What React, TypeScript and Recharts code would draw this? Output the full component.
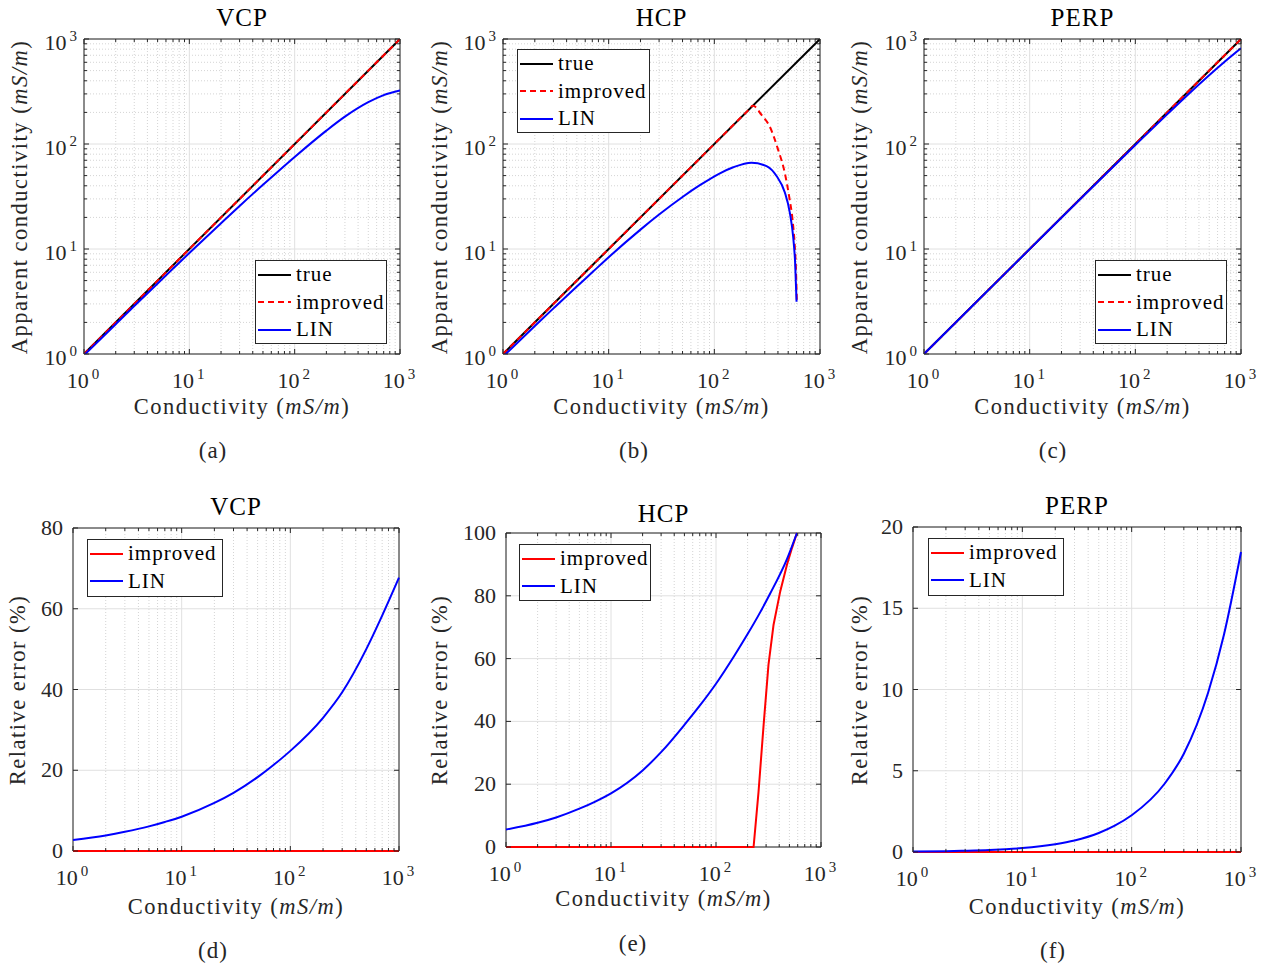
import { LineChart, Line, XAxis, YAxis, CartesianGrid, Legend, ReferenceArea } from 'recharts'

const SERIF = '"Liberation Serif", "Times New Roman", serif'
const INK = '#262626'

// log axis ticks (conductivity, mS/m)
const LOG_DECADES = [1, 10, 100, 1000]
const LOG_EXPONENTS = ['0', '1', '2', '3']
const LOG_MINOR = [2, 3, 4, 5, 6, 7, 8, 9, 20, 30, 40, 50, 60, 70, 80, 90, 200, 300, 400, 500, 600, 700, 800, 900]
const LOG_ALL = [1, 2, 3, 4, 5, 6, 7, 8, 9, 10, 20, 30, 40, 50, 60, 70, 80, 90, 100, 200, 300, 400, 500, 600, 700, 800, 900, 1000]

// relative error ticks (%)
const ERR_TICKS_VCP = [0, 20, 40, 60, 80]
const ERR_TICKS_HCP = [0, 20, 40, 60, 80, 100]
const ERR_TICKS_PERP = [0, 5, 10, 15, 20]

// true conductivity line
const TRUE_X = [1, 1000]
const TRUE_Y = [1, 1000]

// VCP
const VCP_X = [1, 2, 3, 5, 7, 10, 20, 30, 50, 70, 100, 200, 300, 500, 700, 1000]
const VCP_LIN_APPARENT = [0.973, 1.923, 2.86, 4.7, 6.5, 9.15, 17.6, 25.7, 40.9, 55.1, 75.2, 134, 182, 250, 292, 323]
const VCP_LIN_ERR = [2.7, 3.85, 4.75, 6.1, 7.2, 8.5, 11.9, 14.4, 18.3, 21.3, 24.8, 33.0, 39.3, 50, 58.3, 67.7]
const ZERO_X = [1, 1000]
const ZERO_Y = [0, 0]

// HCP
const HCP_LIN_X = [1, 2, 3, 5, 7, 10, 20, 30, 50, 73, 113, 151, 225, 312, 388, 465, 519, 557, 582, 600]
const HCP_LIN_APPARENT = [0.945, 1.85, 2.72, 4.4, 6.0, 8.35, 15.3, 21.3, 31.3, 40.5, 52.6, 60.0, 66.4, 61.5, 49.5, 34.5, 22, 13.1, 7.3, 3.15]
const HCP_IMP_X = [1, 100, 200, 233, 280, 335, 402, 465, 511, 550, 578, 591, 604]
const HCP_IMP_APPARENT = [1, 100, 200, 231, 189, 146, 88, 52.6, 31.5, 18.9, 10.5, 6.8, 3.15]
const HCP_LIN_ERR_X = [1, 2, 3, 5, 7, 10, 20, 30, 50, 70, 100, 150, 200, 264, 329, 474, 590]
const HCP_LIN_ERR = [5.55, 7.7, 9.4, 12.2, 14.4, 17.1, 24.4, 30.2, 38.9, 45.0, 52, 61, 67.8, 74.8, 80.8, 91.7, 100]
const HCP_IMP_ERR_X = [1, 228, 254, 284, 316, 353, 409, 474, 529, 590]
const HCP_IMP_ERR = [0, 0, 17.5, 38.8, 58, 70.7, 81.4, 89.9, 95.2, 100]

// PERP
const PERP_LIN_X = [1, 10, 30, 100, 200, 300, 500, 700, 1000]
const PERP_LIN_APPARENT = [1, 9.98, 29.8, 97.7, 191.6, 281.9, 451, 606, 815]
const PERP_X = [1, 2, 3, 5, 7, 10, 20, 30, 50, 70, 100, 200, 300, 500, 700, 1000]
const PERP_LIN_ERR = [0.025, 0.05, 0.075, 0.12, 0.17, 0.24, 0.48, 0.71, 1.17, 1.62, 2.26, 4.2, 6.05, 9.8, 13.4, 18.46]

type Series = {
  name: string
  xs: number[]
  ys: number[]
  color: string
  dash?: string
  curve: 'monotone' | 'linear'
}

type Box = { left: number; top: number; width: number; height: number }

type PanelSpec = {
  box: Box
  title: string
  titleY: number
  yLog: boolean
  yDomain: [number, number]
  yTicks: number[]
  yLabel: string
  yLabelX: number
  xTitleY: number
  caption: string
  captionX: number
  captionY: number
  legend: Box
  series: Series[]
}

const trueS = (): Series => ({ name: 'true', xs: TRUE_X, ys: TRUE_Y, color: '#000000', curve: 'linear' })

const PANELS: PanelSpec[] = [
  {
    box: { left: 84, top: 39, width: 316, height: 315 },
    title: 'VCP', titleY: 17, yLog: true, yDomain: [1, 1000], yTicks: LOG_ALL,
    yLabel: 'Apparent conductivity', yLabelX: 20, xTitleY: 407,
    caption: '(a)', captionX: 213, captionY: 450,
    legend: { left: 255, top: 260, width: 132, height: 84 },
    series: [
      trueS(),
      { name: 'improved', xs: TRUE_X, ys: TRUE_Y, color: '#ff0000', dash: '6 4', curve: 'linear' },
      { name: 'LIN', xs: VCP_X, ys: VCP_LIN_APPARENT, color: '#0000ff', curve: 'monotone' },
    ],
  },
  {
    box: { left: 503, top: 39, width: 317, height: 315 },
    title: 'HCP', titleY: 17, yLog: true, yDomain: [1, 1000], yTicks: LOG_ALL,
    yLabel: 'Apparent conductivity', yLabelX: 440, xTitleY: 407,
    caption: '(b)', captionX: 634, captionY: 450,
    legend: { left: 517, top: 49, width: 133, height: 84 },
    series: [
      trueS(),
      { name: 'improved', xs: HCP_IMP_X, ys: HCP_IMP_APPARENT, color: '#ff0000', dash: '6 4', curve: 'monotone' },
      { name: 'LIN', xs: HCP_LIN_X, ys: HCP_LIN_APPARENT, color: '#0000ff', curve: 'monotone' },
    ],
  },
  {
    box: { left: 924, top: 39, width: 317, height: 315 },
    title: 'PERP', titleY: 17, yLog: true, yDomain: [1, 1000], yTicks: LOG_ALL,
    yLabel: 'Apparent conductivity', yLabelX: 860, xTitleY: 407,
    caption: '(c)', captionX: 1053, captionY: 450,
    legend: { left: 1095, top: 260, width: 132, height: 84 },
    series: [
      trueS(),
      { name: 'improved', xs: TRUE_X, ys: TRUE_Y, color: '#ff0000', dash: '6 4', curve: 'linear' },
      { name: 'LIN', xs: PERP_LIN_X, ys: PERP_LIN_APPARENT, color: '#0000ff', curve: 'monotone' },
    ],
  },
  {
    box: { left: 73, top: 528, width: 326, height: 323 },
    title: 'VCP', titleY: 506, yLog: false, yDomain: [0, 80], yTicks: ERR_TICKS_VCP,
    yLabel: 'Relative error', yLabelX: 18, xTitleY: 907,
    caption: '(d)', captionX: 213, captionY: 950,
    legend: { left: 87, top: 539, width: 136, height: 58 },
    series: [
      { name: 'improved', xs: ZERO_X, ys: ZERO_Y, color: '#ff0000', curve: 'linear' },
      { name: 'LIN', xs: VCP_X, ys: VCP_LIN_ERR, color: '#0000ff', curve: 'monotone' },
    ],
  },
  {
    box: { left: 506, top: 533, width: 315, height: 314 },
    title: 'HCP', titleY: 513, yLog: false, yDomain: [0, 100], yTicks: ERR_TICKS_HCP,
    yLabel: 'Relative error', yLabelX: 440, xTitleY: 899,
    caption: '(e)', captionX: 633, captionY: 943,
    legend: { left: 519, top: 544, width: 132, height: 57 },
    series: [
      { name: 'improved', xs: HCP_IMP_ERR_X, ys: HCP_IMP_ERR, color: '#ff0000', curve: 'linear' },
      { name: 'LIN', xs: HCP_LIN_ERR_X, ys: HCP_LIN_ERR, color: '#0000ff', curve: 'monotone' },
    ],
  },
  {
    box: { left: 913, top: 527, width: 328, height: 325 },
    title: 'PERP', titleY: 505, yLog: false, yDomain: [0, 20], yTicks: ERR_TICKS_PERP,
    yLabel: 'Relative error', yLabelX: 860, xTitleY: 907,
    caption: '(f)', captionX: 1053, captionY: 950,
    legend: { left: 928, top: 538, width: 136, height: 58 },
    series: [
      { name: 'improved', xs: ZERO_X, ys: ZERO_Y, color: '#ff0000', curve: 'linear' },
      { name: 'LIN', xs: PERP_X, ys: PERP_LIN_ERR, color: '#0000ff', curve: 'monotone' },
    ],
  },
]

const YW = 70
const TM = 26
const RM = 24
const XH = 44

function Txt({ x, y, size, spacing = 1, rotate, color = INK, children }: any) {
  return (
    <div
      style={{
        position: 'absolute',
        left: x,
        top: y,
        transform: `translate(-50%, -50%)${rotate ? ' rotate(-90deg)' : ''}`,
        fontFamily: SERIF,
        fontSize: size,
        letterSpacing: spacing,
        color,
        whiteSpace: 'nowrap',
        lineHeight: 1,
      }}
    >
      {children}
    </div>
  )
}

function Pow10({ x, y, anchor, exp }: any) {
  return (
    <text x={x} y={y} textAnchor={anchor} fontFamily={SERIF} fontSize={22} fill={INK}>
      10
      <tspan dx={3} dy={-9} fontSize={15}>{exp}</tspan>
    </text>
  )
}

function LogXTick({ x, y, payload, plotH }: any) {
  const di = LOG_DECADES.indexOf(payload.value)
  const len = di >= 0 ? 5 : 3
  return (
    <g>
      <line x1={x} x2={x} y1={y} y2={y - len} stroke={INK} strokeWidth={1} />
      <line x1={x} x2={x} y1={y - plotH} y2={y - plotH + len} stroke={INK} strokeWidth={1} />
      {di >= 0 && <Pow10 x={x - 1} y={y + 34} anchor="middle" exp={LOG_EXPONENTS[di]} />}
    </g>
  )
}

function LogYTick({ x, y, payload, plotW }: any) {
  const di = LOG_DECADES.indexOf(payload.value)
  const len = di >= 0 ? 5 : 3
  return (
    <g>
      <line x1={x} x2={x + len} y1={y} y2={y} stroke={INK} strokeWidth={1} />
      <line x1={x + plotW - len} x2={x + plotW} y1={y} y2={y} stroke={INK} strokeWidth={1} />
      {di >= 0 && <Pow10 x={x - 7} y={y + 11} anchor="end" exp={LOG_EXPONENTS[di]} />}
    </g>
  )
}

function LinYTick({ x, y, payload, plotW }: any) {
  return (
    <g>
      <line x1={x} x2={x + 5} y1={y} y2={y} stroke={INK} strokeWidth={1} />
      <line x1={x + plotW - 5} x2={x + plotW} y1={y} y2={y} stroke={INK} strokeWidth={1} />
      <text x={x - 10} y={y + 7} textAnchor="end" fontFamily={SERIF} fontSize={22} fill={INK}>
        {payload.value}
      </text>
    </g>
  )
}

function LegendBox({ series, w, h }: { series: Series[]; w: number; h: number }) {
  return (
    <div
      style={{
        width: w,
        height: h,
        boxSizing: 'border-box',
        border: `1px solid ${INK}`,
        background: '#ffffff',
      }}
    >
      {series.map((s) => (
        <div key={s.name} style={{ display: 'flex', alignItems: 'center', height: 27.5 }}>
          <svg width={38} height={6} style={{ marginLeft: 2, flex: 'none' }}>
            <line x1={0} x2={33} y1={3} y2={3} stroke={s.color} strokeWidth={2} strokeDasharray={s.dash} />
          </svg>
          <span style={{ fontFamily: SERIF, fontSize: 21, letterSpacing: 1, color: '#000', lineHeight: 1 }}>
            {s.name}
          </span>
        </div>
      ))}
    </div>
  )
}

function Panel({ spec }: { spec: PanelSpec }) {
  const { box } = spec
  const chartLeft = box.left - YW
  const chartTop = box.top - TM
  const majorY = spec.yLog ? LOG_DECADES : spec.yTicks
  const cx = box.left + box.width / 2
  const cy = box.top + box.height / 2

  return (
    <>
      <div style={{ position: 'absolute', left: chartLeft, top: chartTop }}>
        <LineChart
          width={box.width + YW + RM}
          height={box.height + TM + XH}
          margin={{ top: TM, right: RM, bottom: 0, left: 0 }}
        >
          <CartesianGrid
            verticalValues={LOG_MINOR}
            horizontalValues={LOG_MINOR}
            horizontal={spec.yLog}
            stroke="#d4d4d4"
            strokeDasharray="1 2"
          />
          <CartesianGrid verticalValues={LOG_DECADES} horizontalValues={majorY} stroke="#e0e0e0" />
          <XAxis
            type="number"
            dataKey="x"
            scale="log"
            domain={[1, 1000]}
            ticks={LOG_ALL}
            interval={0}
            allowDataOverflow={spec.yLog}
            axisLine={false}
            tickLine={false}
            tickSize={0}
            tickMargin={0}
            height={XH}
            tick={(p: any) => <LogXTick {...p} plotH={box.height} />}
          />
          <YAxis
            type="number"
            dataKey="y"
            scale={spec.yLog ? 'log' : 'linear'}
            domain={spec.yDomain}
            ticks={spec.yTicks}
            interval={0}
            allowDataOverflow={spec.yLog}
            axisLine={false}
            tickLine={false}
            tickSize={0}
            tickMargin={0}
            width={YW}
            tick={(p: any) =>
              spec.yLog ? <LogYTick {...p} plotW={box.width} /> : <LinYTick {...p} plotW={box.width} />
            }
          />
          <ReferenceArea
            x1={1}
            x2={1000}
            y1={spec.yDomain[0]}
            y2={spec.yDomain[1]}
            fill="none"
            fillOpacity={0}
            stroke={INK}
            strokeWidth={1}
            ifOverflow="visible"
          />
          {spec.series.map((s) => (
            <Line
              key={s.name}
              name={s.name}
              data={s.xs.map((x, i) => ({ x, y: s.ys[i] }))}
              dataKey="y"
              type={s.curve}
              stroke={s.color}
              strokeWidth={2}
              strokeDasharray={s.dash}
              dot={false}
              activeDot={false}
              isAnimationActive={false}
            />
          ))}
          <Legend
            layout="horizontal"
            verticalAlign="middle"
            align="center"
            wrapperStyle={{
              left: spec.legend.left - chartLeft,
              top: spec.legend.top - chartTop,
              width: spec.legend.width,
              height: spec.legend.height,
            }}
            content={() => <LegendBox series={spec.series} w={spec.legend.width} h={spec.legend.height} />}
          />
        </LineChart>
      </div>
      <Txt x={cx} y={spec.titleY} size={25} color="#000">
        {spec.title}
      </Txt>
      <Txt x={cx} y={spec.xTitleY} size={22.5} spacing={1.5}>
        Conductivity (<span style={{ fontStyle: 'italic' }}>mS/m</span>)
      </Txt>
      <Txt x={spec.yLabelX} y={cy} size={22.5} spacing={1.5} rotate>
        {spec.yLabel} {spec.yLog ? <>(<span style={{ fontStyle: 'italic' }}>mS/m</span>)</> : '(%)'}
      </Txt>
      <Txt x={spec.captionX} y={spec.captionY} size={23}>
        {spec.caption}
      </Txt>
    </>
  )
}

export default function App() {
  return (
    <div style={{ position: 'absolute', left: 0, top: 0, width: 1271, height: 966, background: '#ffffff' }}>
      {PANELS.map((p, i) => (
        <Panel key={i} spec={p} />
      ))}
    </div>
  )
}
